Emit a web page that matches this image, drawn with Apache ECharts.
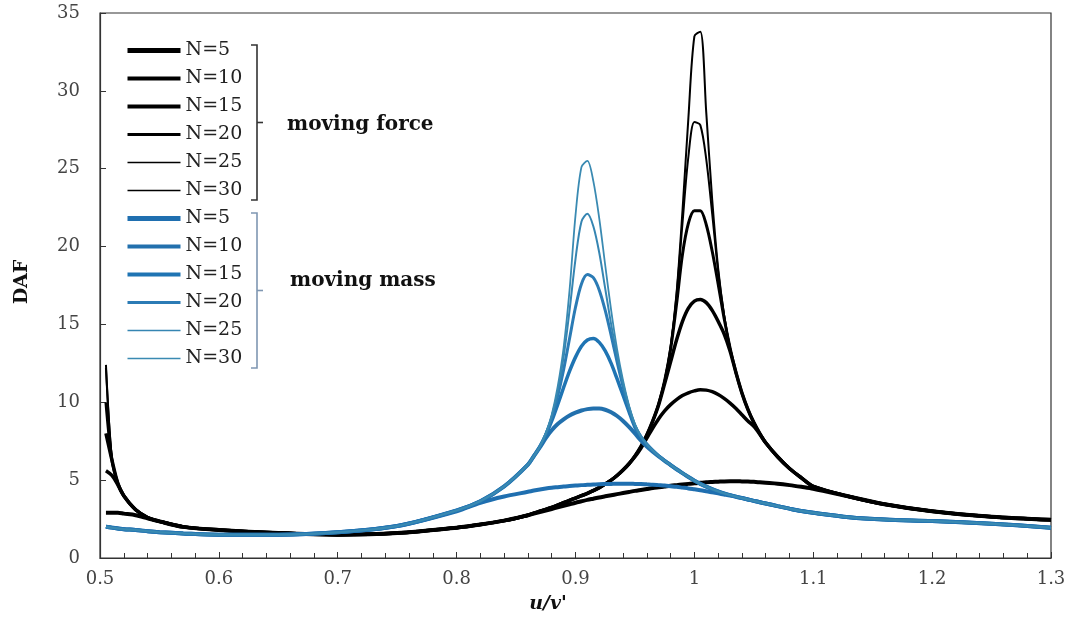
<!DOCTYPE html>
<html>
<head>
<meta charset="utf-8">
<script src="https://cdn.jsdelivr.net/npm/echarts@6/dist/echarts.min.js"></script>
<style>
	html, body { margin: 0; padding: 0; background: #fff; }
	#chart { width: 1073px; height: 629px; }
</style>
</head>
<body>
<div id="chart"></div>
<script>
//------------------------data-----------------------//
// u/v' sample points: coarse at the ends, 0.005 steps through the resonance zone
var xValues = [0.505, 0.51, 0.515, 0.52, 0.53, 0.54, 0.55, 0.57, 0.6, 0.65, 0.7, 0.75, 0.8, 0.82, 0.84,
	0.86, 0.865, 0.87, 0.875, 0.88, 0.885, 0.89, 0.895, 0.9, 0.905,
	0.91, 0.915, 0.92, 0.925, 0.93, 0.935, 0.94, 0.945, 0.95, 0.955,
	0.96, 0.965, 0.97, 0.975, 0.98, 0.985, 0.99, 0.995, 1.0, 1.005,
	1.01, 1.015, 1.02, 1.025, 1.03, 1.035, 1.04, 1.045, 1.05, 1.055,
	1.06,
	1.07, 1.08, 1.09, 1.1, 1.13, 1.16, 1.2, 1.25, 1.3];

// moving force (black)
var forceN5 = [2.9, 2.9, 2.9, 2.85, 2.75, 2.55, 2.35, 2.0, 1.8, 1.6, 1.5, 1.6, 1.95, 2.15, 2.4,
	2.75, 2.85, 2.95, 3.05, 3.15, 3.25, 3.35, 3.45, 3.55, 3.64,
	3.73, 3.81, 3.89, 3.96, 4.03, 4.1, 4.17, 4.24, 4.31, 4.37,
	4.43, 4.49, 4.54, 4.59, 4.64, 4.68, 4.72, 4.76, 4.8, 4.83,
	4.86, 4.88, 4.9, 4.92, 4.93, 4.93, 4.92, 4.91, 4.89, 4.86,
	4.83,
	4.77, 4.68, 4.57, 4.45, 3.95, 3.45, 3.0, 2.65, 2.45];
var forceN10 = [5.6, 5.3, 4.7, 4.0, 3.1, 2.6, 2.35, 2.0, 1.8, 1.6, 1.5, 1.6, 1.95, 2.15, 2.4,
	2.75, 2.88, 3.0, 3.12, 3.25, 3.4, 3.55, 3.7, 3.85, 4.0,
	4.15, 4.33, 4.52, 4.75, 5.0, 5.3, 5.65, 6.05, 6.5, 7.05,
	7.7, 8.35, 8.95, 9.45, 9.85, 10.17, 10.43, 10.61, 10.73, 10.8,
	10.78, 10.68, 10.5, 10.25, 9.95, 9.6, 9.2, 8.8, 8.45, 7.95,
	7.4,
	6.5, 5.75, 5.15, 4.6, 3.95, 3.45, 3.0, 2.65, 2.45];
var forceN15 = [8.0, 6.3, 4.8, 4.0, 3.1, 2.6, 2.35, 2.0, 1.8, 1.6, 1.5, 1.6, 1.95, 2.15, 2.4,
	2.75, 2.88, 3.0, 3.12, 3.25, 3.4, 3.55, 3.7, 3.85, 4.0,
	4.15, 4.33, 4.52, 4.75, 5.0, 5.3, 5.65, 6.05, 6.55, 7.15,
	7.9, 8.8, 9.85, 11.2, 12.6, 14.0, 15.2, 16.05, 16.5, 16.6,
	16.4, 15.9, 15.2, 14.4, 13.3, 11.9, 10.6, 9.55, 8.7, 8.0,
	7.4,
	6.5, 5.75, 5.15, 4.6, 3.95, 3.45, 3.0, 2.65, 2.45];
var forceN20 = [10.0, 6.3, 4.8, 4.0, 3.1, 2.6, 2.35, 2.0, 1.8, 1.6, 1.5, 1.6, 1.95, 2.15, 2.4,
	2.75, 2.88, 3.0, 3.12, 3.25, 3.4, 3.55, 3.7, 3.85, 4.0,
	4.15, 4.33, 4.52, 4.75, 5.0, 5.3, 5.65, 6.05, 6.55, 7.15,
	7.9, 8.8, 9.9, 11.4, 13.4, 16.3, 19.5, 21.5, 22.3, 22.3,
	21.4, 19.7, 17.6, 15.4, 13.5, 11.9, 10.6, 9.55, 8.7, 8.0,
	7.4,
	6.5, 5.75, 5.15, 4.6, 3.95, 3.45, 3.0, 2.65, 2.45];
var forceN25 = [12.2, 6.4, 4.8, 4.0, 3.1, 2.6, 2.35, 2.0, 1.8, 1.6, 1.5, 1.6, 1.95, 2.15, 2.4,
	2.75, 2.88, 3.0, 3.12, 3.25, 3.4, 3.55, 3.7, 3.85, 4.0,
	4.15, 4.33, 4.52, 4.75, 5.0, 5.3, 5.65, 6.05, 6.55, 7.15,
	7.9, 8.8, 9.9, 11.4, 13.5, 16.9, 21.5, 25.8, 28.0, 27.8,
	25.6, 22.1, 18.4, 15.6, 13.5, 11.9, 10.6, 9.55, 8.7, 8.0,
	7.4,
	6.5, 5.75, 5.15, 4.6, 3.95, 3.45, 3.0, 2.65, 2.45];
var forceN30 = [12.4, 6.4, 4.8, 4.0, 3.1, 2.6, 2.35, 2.0, 1.8, 1.6, 1.5, 1.6, 1.95, 2.15, 2.4,
	2.75, 2.88, 3.0, 3.12, 3.25, 3.4, 3.55, 3.7, 3.85, 4.0,
	4.15, 4.33, 4.52, 4.75, 5.0, 5.3, 5.65, 6.05, 6.55, 7.15,
	7.9, 8.8, 9.9, 11.4, 13.6, 17.0, 22.3, 28.3, 33.5, 33.8,
	28.6, 23.0, 18.6, 15.6, 13.5, 11.9, 10.6, 9.55, 8.7, 8.0,
	7.4,
	6.5, 5.75, 5.15, 4.6, 3.95, 3.45, 3.0, 2.65, 2.45];

// moving mass (blue)
var massN5 = [2.0, 1.95, 1.9, 1.85, 1.8, 1.72, 1.66, 1.58, 1.5, 1.5, 1.65, 2.05, 3.0, 3.55, 3.95,
	4.25, 4.33, 4.4, 4.46, 4.51, 4.55, 4.59, 4.62, 4.65, 4.68,
	4.7, 4.72, 4.74, 4.75, 4.76, 4.77, 4.77, 4.77, 4.76, 4.75,
	4.73, 4.71, 4.68, 4.65, 4.61, 4.57, 4.52, 4.47, 4.41, 4.35,
	4.29, 4.22, 4.15, 4.08, 4.01, 3.93, 3.85, 3.76, 3.67, 3.58,
	3.5,
	3.33, 3.17, 3.02, 2.9, 2.62, 2.47, 2.37, 2.2, 1.95];
var massN10 = [2.0, 1.95, 1.9, 1.85, 1.8, 1.72, 1.66, 1.58, 1.5, 1.5, 1.65, 2.05, 3.05, 3.65, 4.6,
	6.0, 6.55, 7.1, 7.7, 8.2, 8.6, 8.9, 9.15, 9.33, 9.47,
	9.56, 9.6, 9.6, 9.52, 9.36, 9.12, 8.8, 8.42, 8.0, 7.55,
	7.15, 6.82, 6.52, 6.24, 5.97, 5.7, 5.45, 5.2, 4.97, 4.76,
	4.58, 4.42, 4.28, 4.15, 4.04, 3.94, 3.85, 3.76, 3.67, 3.58,
	3.5,
	3.33, 3.17, 3.02, 2.9, 2.62, 2.47, 2.37, 2.2, 1.95];
var massN15 = [2.0, 1.95, 1.9, 1.85, 1.8, 1.72, 1.66, 1.58, 1.5, 1.5, 1.65, 2.05, 3.05, 3.65, 4.6,
	6.0, 6.55, 7.15, 7.9, 8.8, 9.85, 10.95, 12.0, 12.9, 13.6,
	14.0, 14.1, 13.85, 13.3, 12.5, 11.5, 10.45, 9.4, 8.4, 7.75,
	7.3, 6.9, 6.55, 6.25, 5.97, 5.7, 5.45, 5.2, 4.97, 4.76,
	4.58, 4.42, 4.28, 4.15, 4.04, 3.94, 3.85, 3.76, 3.67, 3.58,
	3.5,
	3.33, 3.17, 3.02, 2.9, 2.62, 2.47, 2.37, 2.2, 1.95];
var massN20 = [2.0, 1.95, 1.9, 1.85, 1.8, 1.72, 1.66, 1.58, 1.5, 1.5, 1.65, 2.05, 3.05, 3.65, 4.6,
	6.0, 6.55, 7.15, 7.95, 9.0, 10.4, 12.1, 14.1, 16.1, 17.6,
	18.2, 18.0, 17.2, 15.9, 14.3, 12.6, 11.0, 9.6, 8.5, 7.8,
	7.3, 6.9, 6.55, 6.25, 5.97, 5.7, 5.45, 5.2, 4.97, 4.76,
	4.58, 4.42, 4.28, 4.15, 4.04, 3.94, 3.85, 3.76, 3.67, 3.58,
	3.5,
	3.33, 3.17, 3.02, 2.9, 2.62, 2.47, 2.37, 2.2, 1.95];
var massN25 = [2.0, 1.95, 1.9, 1.85, 1.8, 1.72, 1.66, 1.58, 1.5, 1.5, 1.65, 2.05, 3.05, 3.65, 4.6,
	6.0, 6.55, 7.15, 8.0, 9.1, 10.7, 12.9, 15.9, 19.2, 21.6,
	22.1, 21.3, 19.6, 17.3, 15.0, 13.0, 11.2, 9.7, 8.55, 7.8,
	7.3, 6.9, 6.55, 6.25, 5.97, 5.7, 5.45, 5.2, 4.97, 4.76,
	4.58, 4.42, 4.28, 4.15, 4.04, 3.94, 3.85, 3.76, 3.67, 3.58,
	3.5,
	3.33, 3.17, 3.02, 2.9, 2.62, 2.47, 2.37, 2.2, 1.95];
var massN30 = [2.0, 1.95, 1.9, 1.85, 1.8, 1.72, 1.66, 1.58, 1.5, 1.5, 1.65, 2.05, 3.05, 3.65, 4.6,
	6.0, 6.55, 7.15, 8.0, 9.2, 11.0, 13.5, 17.2, 22.0, 25.1,
	25.5, 24.2, 21.8, 18.8, 15.9, 13.4, 11.4, 9.8, 8.6, 7.8,
	7.3, 6.9, 6.55, 6.25, 5.97, 5.7, 5.45, 5.2, 4.97, 4.76,
	4.58, 4.42, 4.28, 4.15, 4.04, 3.94, 3.85, 3.76, 3.67, 3.58,
	3.5,
	3.33, 3.17, 3.02, 2.9, 2.62, 2.47, 2.37, 2.2, 1.95];

var nLabels = ['N=5', 'N=10', 'N=15', 'N=20', 'N=25', 'N=30'];
var forceValues = [forceN5, forceN10, forceN15, forceN20, forceN25, forceN30];
var massValues = [massN5, massN10, massN15, massN20, massN25, massN30];

//------------------------styles----------------------//
var serif = "'DejaVu Serif', 'Liberation Serif', serif";
var black = ['#000', '#000', '#000', '#000', '#000', '#000'];
var forceWidths = [4, 3.5, 3.5, 3, 2, 2];
var forceLegendWidths = [5, 4, 4, 3, 1.5, 1.5];
var massColors = ['#1f6fb0', '#2270ad', '#1f74b3', '#2b7bb5', '#3585b2', '#3a8ab2'];
var massWidths = [4, 4, 3.5, 3, 2, 1.8];
var massLegendWidths = [5, 4, 4, 3, 1.5, 1.5];

function toPairs(ys)
{
	return xValues.map(function(x, i){
		return [x, ys[i]];
	});
}

function buildSeries(prefix, values, colors, widths)
{
	return values.map(function(ys, i){
		return {
			name: prefix + nLabels[i],
			type: 'line',
			data: toPairs(ys),
			symbol: 'none',
			showSymbol: false,
			smooth: 0.3,
			silent: true,
			lineStyle: { color: colors[i], width: widths[i] },
			itemStyle: { color: colors[i] }
		};
	});
}

function buildLegend(prefix, colors, widths, top)
{
	return {
		orient: 'vertical',
		left: 125,
		top: top,
		padding: 0,
		itemWidth: 53,
		itemHeight: 14,
		itemGap: 9,
		selectedMode: false,
		itemStyle: { opacity: 0 },
		data: nLabels.map(function(n, i){
			return {
				name: prefix + n,
				lineStyle: { color: colors[i], width: widths[i] }
			};
		}),
		formatter: function(name){
			return name.replace(prefix, '');
		},
		textStyle: { fontFamily: serif, fontSize: 19, color: '#222' }
	};
}

function bracket(x, y1, y2, color)
{
	var mid = (y1 + y2) / 2;
	return [{
		type: 'polyline',
		shape: { points: [[x - 6, y1], [x, y1], [x, y2], [x - 6, y2]] },
		style: { stroke: color, lineWidth: 1.6, fill: null }
	}, {
		type: 'line',
		shape: { x1: x, y1: mid, x2: x + 6, y2: mid },
		style: { stroke: color, lineWidth: 1.6 }
	}];
}

var option = {
	animation: false,
	backgroundColor: '#fff',
	grid: {
		left: 100,
		right: 22,
		top: 13,
		bottom: 71,
		show: true,
		borderColor: '#333',
		borderWidth: 1.2
	},
	legend: [
		buildLegend('force ', black, forceLegendWidths, 41),
		buildLegend('mass ', massColors, massLegendWidths, 209)
	],
	xAxis: {
		type: 'value',
		min: 0.5,
		max: 1.3,
		interval: 0.1,
		axisLine: { show: true, lineStyle: { color: '#333', width: 1.2 } },
		axisTick: { show: true, inside: true, length: 6, lineStyle: { color: '#333' } },
		minorTick: { show: true, splitNumber: 5, length: 5, lineStyle: { color: '#333' } },
		splitLine: { show: false },
		axisLabel: {
			fontFamily: serif,
			fontSize: 18,
			color: '#444',
			margin: 12,
			formatter: function(v){ return String(parseFloat(v.toFixed(1))); }
		}
	},
	yAxis: {
		type: 'value',
		min: 0,
		max: 35,
		interval: 5,
		axisLine: { show: true, lineStyle: { color: '#333', width: 1.2 } },
		axisTick: { show: true, inside: true, length: 6, lineStyle: { color: '#333' } },
		splitLine: { show: false },
		axisLabel: { fontFamily: serif, fontSize: 18, color: '#444', margin: 20 }
	},
	graphic: [].concat(
		bracket(257, 45, 200, '#333'),
		bracket(257, 213, 368, '#7f97b2'),
		[{
			type: 'text', left: 287, top: 115,
			style: { text: 'moving force', font: 'bold 20px ' + serif, fill: '#111' }
		}, {
			type: 'text', left: 290, top: 271,
			style: { text: 'moving mass', font: 'bold 20px ' + serif, fill: '#111' }
		}, {
			type: 'text', x: 22, y: 282, rotation: Math.PI / 2,
			style: { text: 'DAF', font: 'bold 19px ' + serif, fill: '#111', align: 'center', verticalAlign: 'middle' }
		}, {
			type: 'text', x: 548, y: 604,
			style: { text: "u/v'", font: 'italic bold 19px ' + serif, fill: '#111', align: 'center', verticalAlign: 'middle' }
		}]
	),
	series: buildSeries('force ', forceValues, black, forceWidths)
		.concat(buildSeries('mass ', massValues, massColors, massWidths))
};

var myChart = echarts.init(document.getElementById('chart'));
myChart.setOption(option);
</script>
</body>
</html>
